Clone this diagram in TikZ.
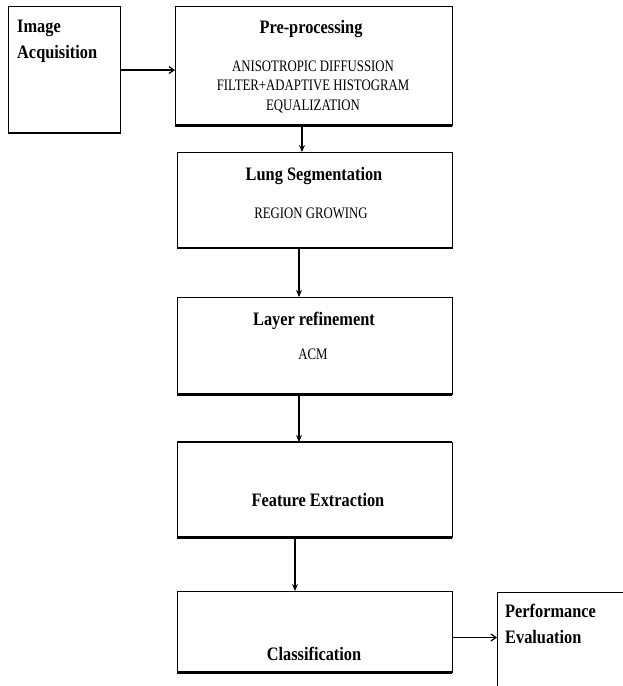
\documentclass[tikz,border=0pt]{standalone}
\usepackage{fontspec}
\setmainfont{Liberation Serif}
\newfontfamily\ttlfont[FakeStretch=0.86]{Liberation Serif}
\newfontfamily\subfont[FakeStretch=0.8]{Liberation Serif}
\usetikzlibrary{arrows.meta}
\begin{document}
\begin{tikzpicture}[x=1pt,y=1pt,
  box/.style={draw, line width=0.8pt, anchor=north west, inner sep=0pt, outer sep=0pt},
  ttl/.style={font=\ttlfont\bfseries\fontsize{19}{19}\selectfont, inner sep=0pt, anchor=base},
  sub/.style={font=\subfont\fontsize{16}{16}\selectfont, inner sep=0pt, anchor=base},
  varr/.style={line width=1.1pt, -{Stealth[length=7pt,width=6pt]}},
  harr/.style={line width=1.2pt, -{Straight Barb[length=5pt,width=7pt]}},
  heavy/.style={line width=3pt}]
\useasboundingbox (0,0) rectangle (623,-686);
% boxes
\node[box, minimum width=112pt, minimum height=127pt] (img) at (8,-6) {};
\node[box, minimum width=277pt, minimum height=119pt] (pre) at (175,-6) {};
\node[box, minimum width=275pt, minimum height=96pt] (lung) at (177,-152) {};
\node[box, minimum width=275pt, minimum height=97pt] (layer) at (177,-297) {};
\node[box, minimum width=275pt, minimum height=95pt] (feat) at (177,-442) {};
\node[box, minimum width=275pt, minimum height=81pt] (cls) at (177,-591) {};
\begin{scope}
\clip (0,0) rectangle (623,-686);
\node[box, minimum width=140pt, minimum height=110pt] (perf) at (497,-592) {};
\end{scope}
% heavy bottom edges
\draw[line width=2pt] (img.south west) -- (img.south east);
\draw[heavy] (pre.south west) -- (pre.south east);
\draw[line width=1.3pt] (lung.south west) -- (lung.south east);
\draw[heavy] (layer.south west) -- (layer.south east);
\draw[line width=2.2pt] (feat.north west) -- (feat.north east);
\draw[heavy] (feat.south west) -- (feat.south east);
\draw[heavy] (cls.south west) -- (cls.south east);
% texts
\node[ttl, anchor=base west] (imgt1) at (17,-32) {Image};
\node[ttl, anchor=base west] (imgt2) at (17,-58) {Acquisition};
\node[ttl] (pret) at (311,-33) {Pre-processing};
\node[sub] (pres1) at (313,-71) {ANISOTROPIC DIFFUSSION};
\node[sub] (pres2) at (313,-90.5) {FILTER+ADAPTIVE HISTOGRAM};
\node[sub] (pres3) at (313,-110) {EQUALIZATION};
\node[ttl] (lungt) at (314,-180) {Lung Segmentation};
\node[sub] (lungs) at (311,-218) {REGION GROWING};
\node[ttl] (layert) at (314,-325) {Layer refinement};
\node[sub] (layers) at (313,-359) {ACM};
\node[ttl] (featt) at (318,-506) {Feature Extraction};
\node[ttl] (clst) at (314,-660) {Classification};
\node[ttl, anchor=base west] (perft1) at (505,-617) {Performance};
\node[ttl, anchor=base west] (perft2) at (505,-643) {Evaluation};
% connectors
\draw[harr] ([yshift=-0.5pt]img.east) -- ([yshift=-0.5pt]img.east -| pre.west);
\draw[varr] ([xshift=-11.5pt]pre.south) -- ([xshift=-11.5pt]pre.south |- lung.north);
\draw[varr] ([xshift=-15.5pt]lung.south) -- ([xshift=-15.5pt]lung.south |- layer.north);
\draw[varr] ([xshift=-15.5pt]layer.south) -- ([xshift=-15.5pt]layer.south |- feat.north);
\draw[varr, line width=2.4pt] ([xshift=-19.5pt]feat.south) -- ([xshift=-19.5pt]feat.south |- cls.north);
\draw[harr] ([yshift=-6pt]cls.east) -- ([yshift=-6pt]cls.east -| perf.west);
\end{tikzpicture}
\end{document}
